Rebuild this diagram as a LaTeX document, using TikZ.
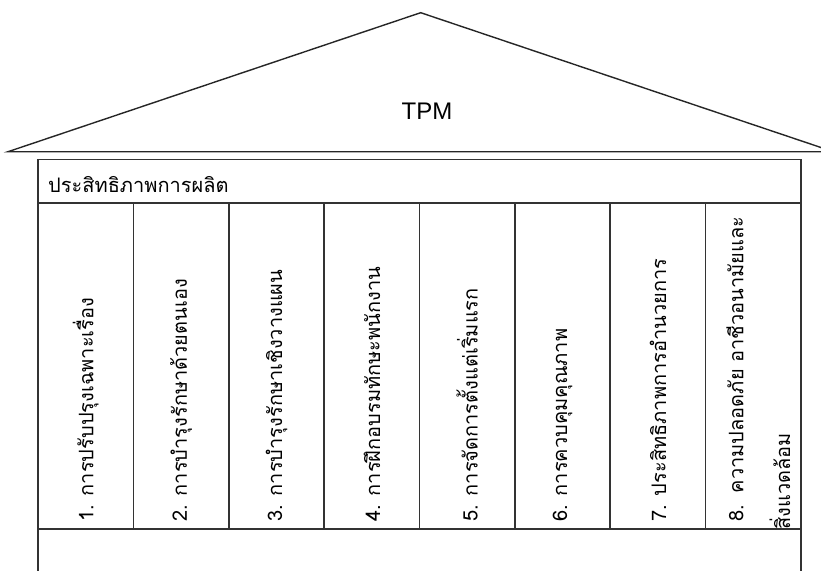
\documentclass[tikz,border=0pt]{standalone}
\usepackage{fontspec}
\setmainfont{Liberation Sans}
\newfontfamily\thaifont[Script=Thai]{Loma}
\begin{document}
\begin{tikzpicture}[x=1pt,y=-1pt,
  roofline/.style={line width=1.4pt,draw=black!85},
  boxline/.style={line width=1.6pt,draw=black!80},
  coltext/.style={rotate=90,anchor=west,inner sep=0pt,font=\thaifont\fontsize{20}{24}\selectfont},
  headtext/.style={anchor=base west,inner sep=0pt,font=\thaifont\fontsize{20}{24}\selectfont},
  titletext/.style={inner sep=0pt,font=\fontsize{24}{29}\selectfont}]
\useasboundingbox (0,0) rectangle (821,570);
\clip (0,0) rectangle (821,570);
% roof
\coordinate (apex) at (420.7,12.7);
\coordinate (rl) at (8,151.7);
\coordinate (rr) at (833.4,151.7);
\draw[roofline] (rl) -- (apex) -- (rr) -- cycle;
\node[titletext] (tpm) at (427,111) {TPM};
% box
\coordinate (bl) at (38,159.3);
\coordinate (br) at (801,159.3);
\draw[boxline] (38,580) -- (bl) -- (br) -- (801,580);
\draw[boxline] (38,202.7) -- (801,202.7);
\draw[boxline] (38,529) -- (801,529);
\foreach \i in {1,...,7}{
  \draw[boxline] ({38+95.375*\i},202.7) -- ({38+95.375*\i},529);
}
\node[headtext] (head) at (48,192) {ประสิทธิภาพการผลิต};
% columns
\node[coltext] (c1) at (85.7,522) {1. การปรับปรุงเฉพาะเรื่อง};
\node[coltext] (c2) at (181.1,522) {2. การบำรุงรักษาด้วยตนเอง};
\node[coltext] (c3) at (276.5,522) {3. การบำรุงรักษาเชิงวางแผน};
\node[coltext] (c4) at (371.9,522) {4. การฝึกอบรมทักษะพนักงาน};
\node[coltext] (c5) at (467.2,522) {5. การจัดการตั้งแต่เริ่มแรก};
\node[coltext] (c6) at (562.6,522) {6. การควบคุมคุณภาพ};
\node[coltext] (c7) at (658.0,522) {7. ประสิทธิภาพการอำนวยการ};
\node[coltext] (c8a) at (735,522) {8.\hspace{0.6em}ความปลอดภัย อาชีวอนามัยและ};
\node[coltext] (c8b) at (780,530) {สิ่งแวดล้อม};
\end{tikzpicture}
\end{document}
